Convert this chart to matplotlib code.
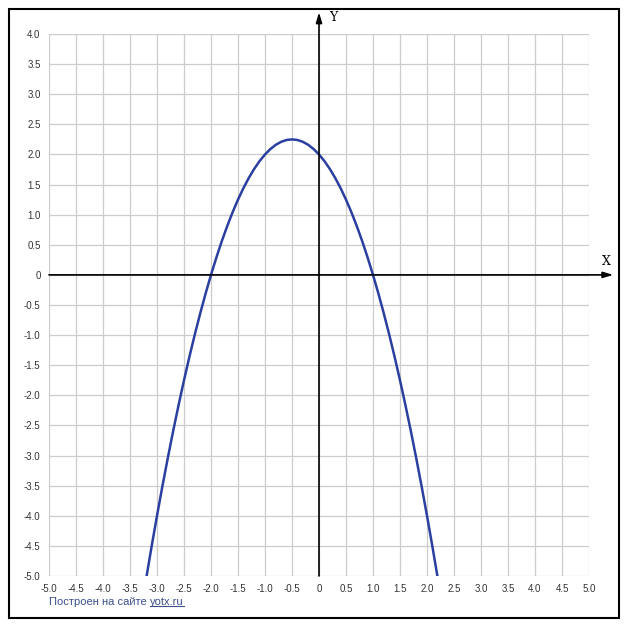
import matplotlib
matplotlib.use("Agg")
import matplotlib.pyplot as plt
from matplotlib.patches import Rectangle
import numpy as np

# values
x_vals = [-3.2, -3.1, -3.0, -2.9, -2.8, -2.7, -2.6, -2.5, -2.4, -2.3, -2.2, -2.1,
          -2.0, -1.9, -1.8, -1.7, -1.6, -1.5, -1.4, -1.3, -1.2, -1.1, -1.0, -0.9,
          -0.8, -0.7, -0.6, -0.5, -0.4, -0.3, -0.2, -0.1, 0.0, 0.1, 0.2, 0.3,
          0.4, 0.5, 0.6, 0.7, 0.8, 0.9, 1.0, 1.1, 1.2, 1.3, 1.4, 1.5, 1.6, 1.7,
          1.8, 1.9, 2.0, 2.1, 2.2]
y_vals = [-5.04, -4.51, -4.0, -3.51, -3.04, -2.59, -2.16, -1.75, -1.36, -0.99,
          -0.64, -0.31, 0.0, 0.29, 0.56, 0.81, 1.04, 1.25, 1.44, 1.61, 1.76,
          1.89, 2.0, 2.09, 2.16, 2.21, 2.24, 2.25, 2.24, 2.21, 2.16, 2.09, 2.0,
          1.89, 1.76, 1.61, 1.44, 1.25, 1.04, 0.81, 0.56, 0.29, 0.0, -0.31,
          -0.64, -0.99, -1.36, -1.75, -2.16, -2.59, -3.04, -3.51, -4.0, -4.51,
          -5.04]

x_ticks = [-5.0, -4.5, -4.0, -3.5, -3.0, -2.5, -2.0, -1.5, -1.0, -0.5, 0.0,
           0.5, 1.0, 1.5, 2.0, 2.5, 3.0, 3.5, 4.0, 4.5, 5.0]
y_ticks = [-5.0, -4.5, -4.0, -3.5, -3.0, -2.5, -2.0, -1.5, -1.0, -0.5, 0.0,
           0.5, 1.0, 1.5, 2.0, 2.5, 3.0, 3.5, 4.0]
footer = "Построен на сайте "
footer_link = "yotx.ru"

W, H = 627, 630
fig = plt.figure(figsize=(W / 100, H / 100), dpi=100)
fig.patch.set_facecolor("white")

# outer frame
fig.patches.append(Rectangle((9 / W, 1 - 618 / H), 610 / W, 609 / H,
                             transform=fig.transFigure, fill=False,
                             ec="black", lw=1.5))

ax = fig.add_axes([49 / W, 1 - 576 / H, 540 / W, 542 / H])
ax.set_xlim(-5, 5)
ax.set_ylim(-5, 4)
for s in ax.spines.values():
    s.set_visible(False)

ax.set_xticks(x_ticks)
ax.set_yticks(y_ticks)
fmt = lambda v: "0" if v == 0 else f"{v:.1f}"
ax.set_xticklabels([fmt(v) for v in x_ticks], family="Liberation Sans")
ax.set_yticklabels([fmt(v) for v in y_ticks], family="Liberation Sans")
ax.tick_params(length=0, labelsize=7, labelcolor="#333333", pad=6)
ax.grid(True, color="#cccccc", lw=0.9)
ax.set_axisbelow(True)

# axes with arrows
arrow = dict(arrowstyle="-|>,head_length=0.6,head_width=0.18",
             color="black", lw=1.2, shrinkA=0, shrinkB=0)
ax.annotate("", xy=(5.45, 0), xytext=(-5, 0), annotation_clip=False,
            arrowprops=arrow)
ax.annotate("", xy=(0, 4.36), xytext=(0, -5), annotation_clip=False,
            arrowprops=arrow)
ax.text(5.33, 0.22, "X", family="DejaVu Serif", fontsize=9, ha="center",
        va="center", clip_on=False)
ax.text(0.26, 4.28, "Y", family="DejaVu Serif", fontsize=9, ha="center",
        va="center", clip_on=False)

ax.plot(x_vals, y_vals, color="#2b3fa0", lw=1.8, solid_capstyle="butt")

# footer with underlined link
t1 = fig.text(49 / W, 1 - 602 / H, footer, fontsize=8, color="#3c4f8c",
              family="Liberation Sans", ha="left", va="center")
fig.canvas.draw()
bb = t1.get_window_extent()
t2 = fig.text(bb.x1 / W, 1 - 602 / H, footer_link, fontsize=8,
              color="#3c4f8c", family="Liberation Sans", ha="left",
              va="center")
fig.canvas.draw()
bb2 = t2.get_window_extent()
y_line = (bb2.y0 + 1) / H
fig.add_artist(plt.Line2D([bb2.x0 / W, bb2.x1 / W], [y_line, y_line],
                          transform=fig.transFigure, color="#3c4f8c", lw=0.8))

fig.savefig("out.png", dpi=100)
